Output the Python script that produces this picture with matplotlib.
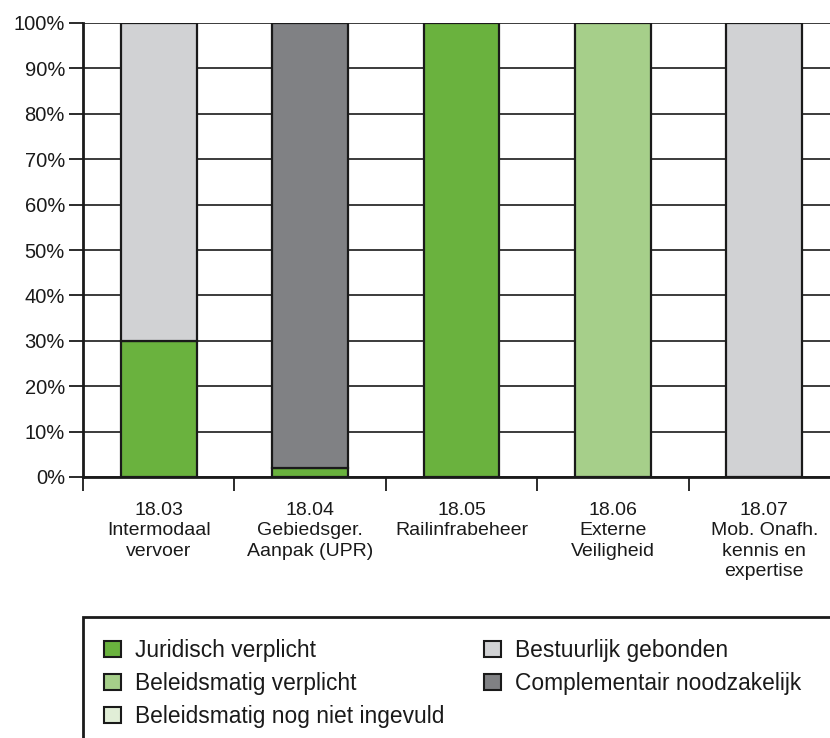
import matplotlib
matplotlib.use("Agg")
import matplotlib.pyplot as plt
from matplotlib.patches import Patch, Rectangle
import numpy as np

plt.rcParams['font.family'] = ['Liberation Sans', 'DejaVu Sans']

categories = ["18.03\nIntermodaal\nvervoer", "18.04\nGebiedsger.\nAanpak (UPR)",
              "18.05\nRailinfrabeheer", "18.06\nExterne\nVeiligheid",
              "18.07\nMob. Onafh.\nkennis en\nexpertise"]
series_names = ["Juridisch verplicht", "Beleidsmatig verplicht",
                "Beleidsmatig nog niet ingevuld", "Bestuurlijk gebonden",
                "Complementair noodzakelijk"]
juridisch = [30, 2, 100, 0, 0]
beleid_verplicht = [0, 0, 0, 100, 0]
beleid_nog_niet = [0, 0, 0, 0, 0]
bestuurlijk = [70, 0, 0, 0, 100]
complementair = [0, 98, 0, 0, 0]
yticks = [0, 10, 20, 30, 40, 50, 60, 70, 80, 90, 100]

series = [juridisch, beleid_verplicht, beleid_nog_niet, bestuurlijk, complementair]
colors = ["#6ab23e", "#a6cf8a", "#e1eed7", "#d1d2d4", "#808184"]

W, H = 830, 738
fig = plt.figure(figsize=(W / 100, H / 100), dpi=100)
ax_h = 477 - 23
ax = fig.add_axes([83 / W, 1 - 477 / H, (840 - 83) / W, ax_h / H])

x = np.arange(len(categories)) + 0.5
bottom = np.zeros(len(categories))
for vals, col, name in zip(series, colors, series_names):
    v = np.array(vals, dtype=float)
    mask = v > 0
    ax.bar(x[mask], v[mask], width=0.5, bottom=bottom[mask], color=col,
           edgecolor="#1a1a1a", linewidth=1.6, zorder=3)
    bottom += v

ax.set_xlim(0, 5)
ax.set_ylim(0, 100)
ax.set_yticks(yticks)
ax.set_yticklabels([f"{t}%" for t in yticks], fontsize=14.5, color="#1a1a1a")
for t in yticks:
    ax.axhline(t, color="#1a1a1a", linewidth=1.2, zorder=1)

ax.set_xticks(np.arange(0, 5))
ax.set_xticklabels([])
ax.tick_params(axis="x", length=10, width=1.3, direction="out",
               color="#1a1a1a")
ax.tick_params(axis="y", length=10, width=1.3, direction="out", pad=3,
               color="#1a1a1a")

xt = ax.get_xaxis_transform()
for xi, lab in zip(x, categories):
    ax.text(xi, -25 / ax_h, lab, transform=xt, ha="center", va="top",
            fontsize=14, color="#1a1a1a", linespacing=1.26)

for s in ["top", "right"]:
    ax.spines[s].set_visible(False)
for s in ["left", "bottom"]:
    ax.spines[s].set_linewidth(2.0)
    ax.spines[s].set_color("#1a1a1a")
    ax.spines[s].set_zorder(4)

# legend frame extending beyond figure
rect = Rectangle((83 / W, -0.1), 1.0, (738 - 617) / H + 0.1,
                 transform=fig.transFigure, facecolor="none",
                 edgecolor="#1a1a1a", linewidth=2.0)
fig.patches.append(rect)

handles = [Patch(facecolor=c, edgecolor="#1a1a1a", linewidth=1.5) for c in colors]
kw = dict(frameon=False, fontsize=16.4, handlelength=0.75, handleheight=0.75,
          handletextpad=0.62, labelspacing=0.44, borderpad=0, borderaxespad=0,
          loc="upper left", labelcolor="#1a1a1a")
fig.legend(handles[:3], series_names[:3],
           bbox_to_anchor=(104 / W, 1 - 639 / H), **kw)
fig.legend(handles[3:], series_names[3:],
           bbox_to_anchor=(484 / W, 1 - 639 / H), **kw)

fig.savefig("out.png", dpi=100)
